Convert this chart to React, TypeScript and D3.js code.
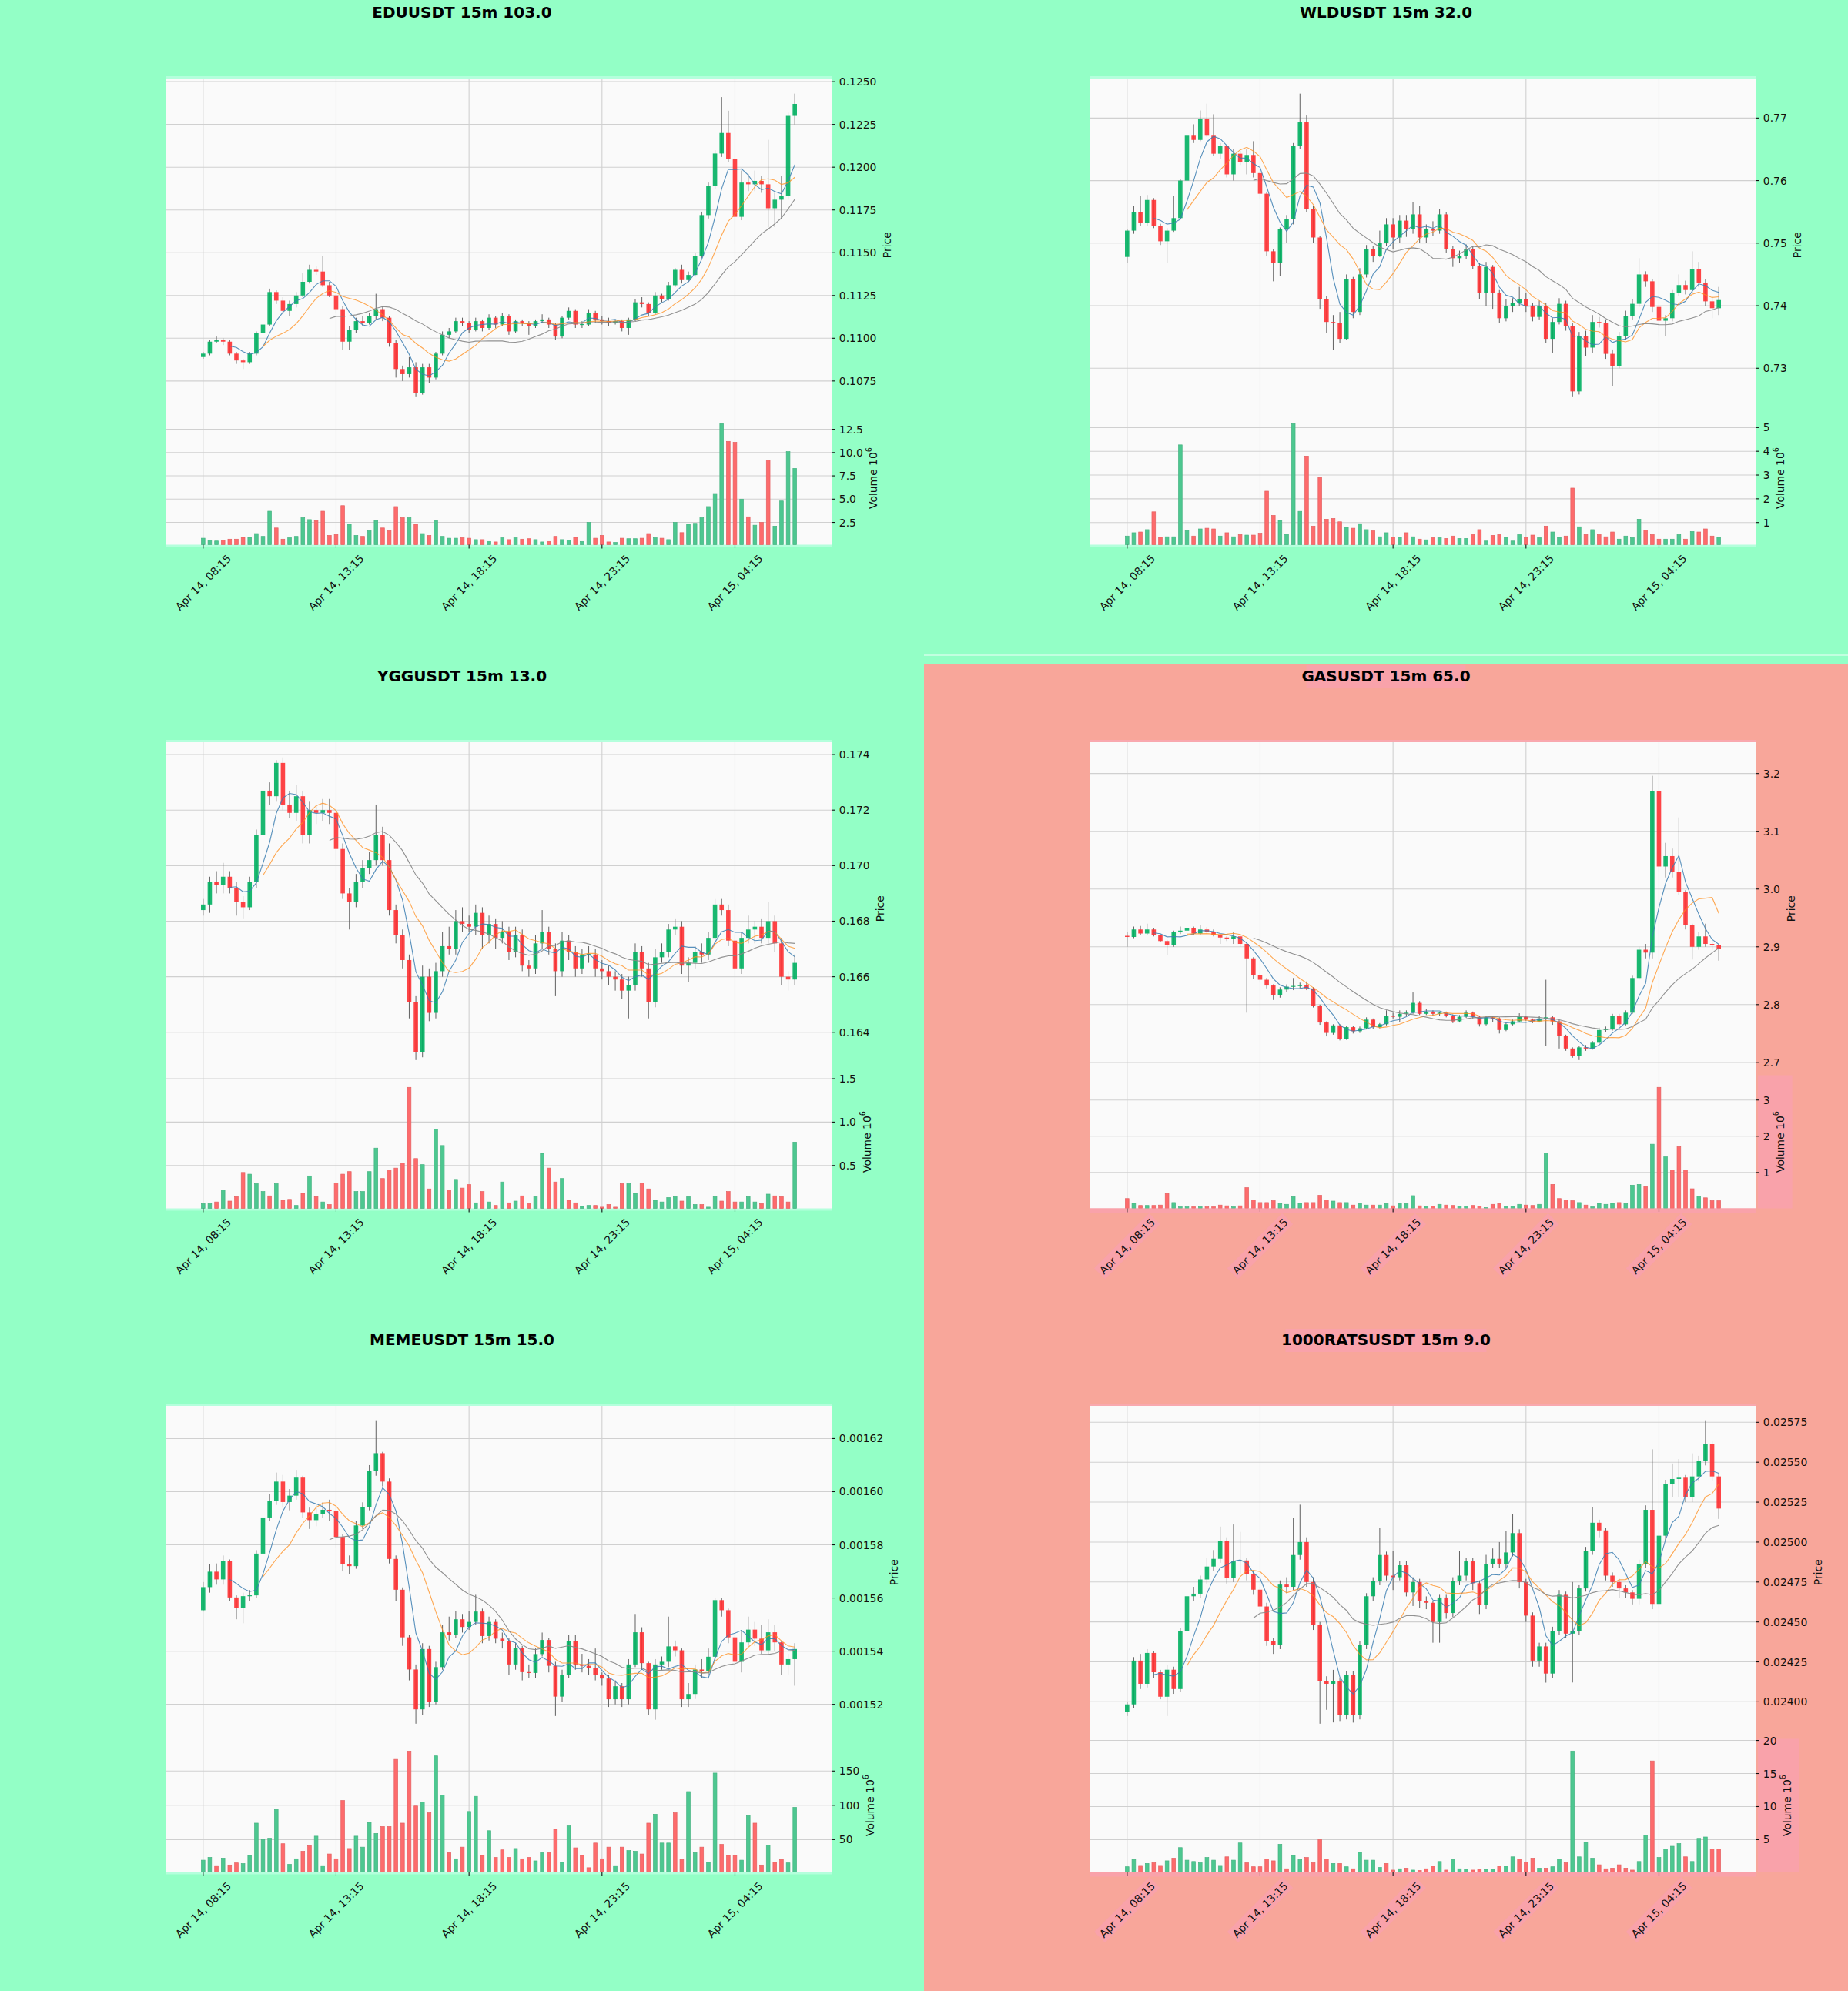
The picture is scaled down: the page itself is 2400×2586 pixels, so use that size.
import React from 'react';
import * as d3 from 'd3';

type Bar = [number, number, number, number]; // open, high, low, close

const timeTickIndex = [0, 20, 40, 60, 80];
const timeTickLabels = ['Apr 14, 08:15', 'Apr 14, 13:15', 'Apr 14, 18:15', 'Apr 14, 23:15', 'Apr 15, 04:15'];

const eduOHLC: Bar[] = [
[.1089,.1092,.1088,.1091],[.1091,.1099,.1090,.1098],[.1098,.1101,.1097,.1099],[.1099,.1100,.1096,.1098],[.1098,.1099,.1090,.1091],
[.1091,.1092,.1085,.1087],[.1087,.1088,.1082,.1086],[.1086,.1092,.1085,.1091],[.1091,.1104,.1090,.1103],[.1103,.1110,.1101,.1108],
[.1108,.1129,.1107,.1127],[.1127,.1128,.1120,.1122],[.1122,.1124,.1114,.1116],[.1116,.1122,.1113,.1120],[.1120,.1127,.1118,.1125],
[.1125,.1138,.1124,.1133],[.1133,.1143,.1132,.1140],[.1140,.1142,.1137,.1139],[.1139,.1148,.1130,.1131],[.1131,.1133,.1124,.1125],
[.1125,.1126,.1115,.1117],[.1117,.1119,.1093,.1098],[.1098,.1107,.1093,.1105],[.1105,.1112,.1103,.1110],[.1110,.1113,.1107,.1109],
[.1109,.1115,.1108,.1113],[.1113,.1126,.1111,.1117],[.1117,.1119,.1110,.1112],[.1112,.1113,.1095,.1097],[.1097,.1099,.1077,.1082],
[.1082,.1084,.1075,.1079],[.1079,.1089,.1077,.1083],[.1083,.1086,.1066,.1068],[.1068,.1085,.1067,.1083],[.1083,.1085,.1074,.1077],
[.1077,.1092,.1076,.1091],[.1091,.1104,.1090,.1102],[.1102,.1106,.1100,.1104],[.1104,.1112,.1103,.1110],[.1110,.1112,.1107,.1109],
[.1109,.1110,.1103,.1105],[.1105,.1112,.1104,.1110],[.1110,.1111,.1104,.1106],[.1106,.1114,.1105,.1112],[.1112,.1113,.1106,.1108],
[.1108,.1115,.1107,.1113],[.1113,.1114,.1102,.1104],[.1104,.1111,.1103,.1110],[.1110,.1111,.1107,.1109],[.1109,.1110,.1102,.1107],
[.1107,.1111,.1106,.1110],[.1110,.1114,.1109,.1111],[.1111,.1112,.1106,.1108],[.1108,.1109,.1099,.1101],[.1101,.1113,.1100,.1112],
[.1112,.1118,.1111,.1116],[.1116,.1117,.1106,.1108],[.1108,.1110,.1106,.1108],[.1108,.1117,.1107,.1115],[.1115,.1116,.1109,.1111],
[.1111,.1113,.1108,.1110],[.1110,.1112,.1107,.1109],[.1109,.1111,.1108,.1110],[.1110,.1111,.1104,.1106],[.1106,.1112,.1102,.1111],
[.1111,.1123,.1110,.1121],[.1121,.1124,.1118,.1120],[.1120,.1121,.1113,.1115],[.1115,.1127,.1114,.1125],[.1125,.1126,.1121,.1123],
[.1123,.1133,.1122,.1131],[.1131,.1141,.1130,.1140],[.1140,.1143,.1132,.1134],[.1134,.1139,.1133,.1137],[.1137,.1150,.1136,.1148],
[.1148,.1174,.1147,.1172],[.1172,.1191,.1170,.1189],[.1189,.1210,.1187,.1208],[.1208,.1241,.1206,.1220],[.1220,.1233,.1203,.1205],
[.1205,.1207,.1155,.1171],[.1171,.1198,.1169,.1191],[.1191,.1196,.1186,.1190],[.1190,.1198,.1186,.1192],[.1192,.1195,.1185,.1190],
[.1190,.1216,.1165,.1176],[.1176,.1185,.1165,.1181],[.1181,.1195,.1170,.1183],[.1183,.1232,.1181,.1230],[.1230,.1243,.1225,.1237],
];
const eduVol = [0.8,0.6,0.5,0.6,0.7,0.7,0.9,0.9,1.3,1.0,3.7,1.9,0.7,0.85,1.0,3.0,2.8,2.7,3.7,1.1,1.2,4.3,2.3,1.1,1.0,1.6,2.7,1.9,1.6,4.2,
3.0,3.0,2.3,1.3,1.1,2.7,1.0,0.8,0.8,0.85,0.8,0.65,0.65,0.45,0.4,0.85,0.65,0.85,0.7,0.75,0.65,0.4,0.45,1.0,0.65,0.6,0.9,0.45,2.5,0.8,
1.1,0.4,0.35,0.8,0.75,0.75,0.8,1.3,0.85,0.8,0.65,2.5,1.4,2.3,2.4,3.0,4.2,5.6,13.1,11.2,11.1,5.0,3.1,2.2,2.5,9.2,2.1,4.8,10.1,8.3];
const eduPriceTicks = [0.1075,0.11,0.1125,0.115,0.1175,0.12,0.1225,0.125];
const eduVolTicks = [2.5,5,7.5,10,12.5];

const wldOHLC: Bar[] = [
[.7478,.7522,.7468,.7520],[.7520,.7560,.7515,.7550],[.7550,.7575,.7528,.7532],[.7532,.7577,.7528,.7569],[.7569,.7572,.7524,.7528],
[.7528,.7531,.7497,.7503],[.7503,.7524,.7468,.7520],[.7520,.7575,.7518,.7540],[.7540,.7603,.7538,.7600],[.7600,.7676,.7598,.7673],
[.7673,.7690,.7660,.7665],[.7665,.7712,.7663,.7699],[.7699,.7723,.7670,.7673],[.7673,.7706,.7640,.7643],[.7643,.7660,.7635,.7655],
[.7655,.7658,.7605,.7610],[.7610,.7650,.7600,.7643],[.7643,.7648,.7625,.7630],[.7630,.7650,.7610,.7641],[.7641,.7663,.7605,.7612],
[.7612,.7615,.7570,.7579],[.7579,.7582,.7480,.7487],[.7487,.7490,.7439,.7468],[.7468,.7525,.7448,.7522],[.7522,.7545,.7500,.7538],
[.7538,.7660,.7530,.7655],[.7655,.7739,.7650,.7693],[.7693,.7704,.7550,.7554],[.7554,.7560,.7500,.7509],[.7509,.7512,.7395,.7411],
[.7411,.7415,.7357,.7374],[.7374,.7385,.7329,.7372],[.7372,.7390,.7340,.7347],[.7347,.7450,.7345,.7442],[.7442,.7446,.7380,.7390],
[.7390,.7460,.7385,.7450],[.7450,.7497,.7445,.7491],[.7491,.7495,.7470,.7480],[.7480,.7520,.7478,.7501],[.7501,.7540,.7495,.7530],
[.7530,.7540,.7490,.7509],[.7509,.7545,.7500,.7536],[.7536,.7545,.7510,.7522],[.7522,.7565,.7515,.7546],[.7546,.7560,.7500,.7509],
[.7509,.7530,.7500,.7522],[.7522,.7535,.7512,.7520],[.7520,.7555,.7515,.7546],[.7546,.7550,.7485,.7491],[.7491,.7495,.7462,.7476],
[.7476,.7488,.7468,.7480],[.7480,.7498,.7475,.7491],[.7491,.7495,.7458,.7464],[.7464,.7468,.7410,.7421],[.7421,.7470,.7400,.7462],
[.7462,.7465,.7395,.7421],[.7421,.7425,.7372,.7380],[.7380,.7410,.7375,.7400],[.7400,.7412,.7390,.7405],[.7405,.7430,.7400,.7411],
[.7411,.7420,.7390,.7400],[.7400,.7405,.7375,.7382],[.7382,.7408,.7378,.7400],[.7400,.7405,.7340,.7347],[.7347,.7380,.7325,.7374],
[.7374,.7412,.7370,.7403],[.7403,.7408,.7360,.7368],[.7368,.7372,.7255,.7263],[.7263,.7358,.7258,.7351],[.7351,.7360,.7320,.7333],
[.7333,.7385,.7325,.7374],[.7374,.7382,.7365,.7372],[.7372,.7378,.7315,.7323],[.7323,.7330,.7271,.7304],[.7304,.7358,.7300,.7351],
[.7351,.7392,.7345,.7384],[.7384,.7410,.7378,.7403],[.7403,.7476,.7398,.7450],[.7450,.7455,.7430,.7439],[.7439,.7442,.7390,.7398],
[.7398,.7402,.7350,.7376],[.7376,.7385,.7352,.7380],[.7380,.7425,.7375,.7421],[.7421,.7450,.7415,.7433],[.7433,.7440,.7418,.7425],
[.7425,.7487,.7420,.7458],[.7458,.7470,.7430,.7437],[.7437,.7442,.7400,.7407],[.7407,.7415,.7380,.7396],[.7396,.7430,.7385,.7409],
];
const wldVol = [0.43,0.57,0.6,0.7,1.45,0.38,0.4,0.4,4.27,0.66,0.43,0.73,0.76,0.73,0.43,0.57,0.4,0.49,0.47,0.47,
0.55,2.32,1.3,1.09,0.5,5.16,1.47,3.8,0.85,2.9,1.14,1.17,1.03,0.8,0.76,0.95,0.7,0.65,0.4,0.57,
0.38,0.38,0.57,0.4,0.3,0.27,0.36,0.36,0.33,0.43,0.33,0.33,0.49,0.7,0.22,0.46,0.49,0.38,0.22,0.49,
0.38,0.47,0.36,0.85,0.6,0.38,0.43,2.45,0.82,0.49,0.7,0.49,0.4,0.6,0.3,0.43,0.36,1.14,0.68,0.49,
0.3,0.3,0.3,0.49,0.3,0.62,0.6,0.73,0.43,0.38];
const wldPriceTicks = [0.73,0.74,0.75,0.76,0.77];
const wldVolTicks = [1,2,3,4,5];

const yggOHLC: Bar[] = [
[.1684,.1688,.1682,.1686],[.1686,.1696,.1683,.1694],[.1694,.1698,.1690,.1693],[.1693,.1701,.1690,.1696],[.1696,.1698,.1690,.1692],
[.1692,.1694,.1682,.1687],[.1687,.1689,.1681,.1685],[.1685,.1696,.1684,.1694],[.1694,.1713,.1692,.1711],[.1711,.1729,.1709,.1727],
[.1727,.1730,.1722,.1725],[.1725,.1738,.1723,.1737],[.1737,.1739,.1720,.1722],[.1722,.1727,.1717,.1719],[.1719,.1729,.1716,.1725],
[.1725,.1727,.1708,.1711],[.1711,.1723,.1708,.1720],[.1720,.1722,.1715,.1719],[.1719,.1724,.1716,.1720],[.1720,.1724,.1715,.1719],
[.1719,.1721,.1702,.1706],[.1706,.1708,.1688,.1690],[.1690,.1692,.1677,.1687],[.1687,.1697,.1685,.1694],[.1694,.1702,.1692,.1699],
[.1699,.1705,.1697,.1702],[.1702,.1722,.1700,.1711],[.1711,.1714,.1700,.1702],[.1702,.1708,.1682,.1684],[.1684,.1686,.1672,.1675],
[.1675,.1677,.1663,.1666],[.1666,.1668,.1645,.1651],[.1651,.1653,.1630,.1633],[.1633,.1664,.1631,.1660],[.1660,.1663,.1644,.1647],
[.1647,.1665,.1645,.1662],[.1662,.1676,.1660,.1671],[.1671,.1678,.1668,.1670],[.1670,.1684,.1668,.1680],[.1680,.1685,.1676,.1679],
[.1679,.1682,.1676,.1678],[.1678,.1686,.1675,.1683],[.1683,.1685,.1670,.1675],[.1675,.1682,.1672,.1679],[.1679,.1681,.1670,.1674],
[.1674,.1680,.1672,.1676],[.1676,.1678,.1666,.1669],[.1669,.1678,.1667,.1675],[.1675,.1677,.1662,.1664],[.1664,.1666,.1660,.1663],
[.1663,.1675,.1661,.1672],[.1672,.1684,.1670,.1676],[.1676,.1678,.1668,.1670],[.1670,.1672,.1653,.1662],[.1662,.1676,.1660,.1673],
[.1673,.1675,.1666,.1669],[.1669,.1671,.1660,.1663],[.1663,.1670,.1661,.1668],[.1668,.1671,.1665,.1668],[.1668,.1670,.1660,.1663],
[.1663,.1666,.1659,.1662],[.1662,.1664,.1657,.1660],[.1660,.1662,.1655,.1659],[.1659,.1661,.1652,.1655],[.1655,.1660,.1645,.1657],
[.1657,.1672,.1655,.1669],[.1669,.1671,.1660,.1663],[.1663,.1665,.1645,.1651],[.1651,.1670,.1649,.1667],[.1667,.1672,.1665,.1669],
[.1669,.1679,.1667,.1677],[.1677,.1681,.1675,.1678],[.1678,.1680,.1661,.1664],[.1664,.1667,.1658,.1665],[.1665,.1671,.1663,.1669],
[.1669,.1672,.1665,.1668],[.1668,.1676,.1666,.1674],[.1674,.1688,.1672,.1686],[.1686,.1688,.1682,.1684],[.1684,.1686,.1671,.1673],
[.1673,.1675,.1660,.1663],[.1663,.1676,.1661,.1674],[.1674,.1682,.1672,.1677],[.1677,.1680,.1672,.1678],[.1678,.1681,.1672,.1674],
[.1674,.1687,.1672,.1680],[.1680,.1682,.1669,.1672],[.1672,.1674,.1657,.1660],[.1660,.1662,.1655,.1659],[.1659,.1668,.1657,.1665],
];
const yggVol = [0.06,0.06,0.08,0.22,0.09,0.14,0.42,0.40,0.29,0.20,0.15,0.29,0.10,0.11,0.04,0.18,0.38,0.14,0.08,0.05,
0.30,0.40,0.43,0.20,0.20,0.43,0.70,0.35,0.45,0.47,0.53,1.40,0.58,0.51,0.23,0.92,0.73,0.22,0.34,0.24,
0.28,0.07,0.20,0.08,0.04,0.31,0.07,0.09,0.15,0.06,0.14,0.64,0.47,0.31,0.35,0.10,0.07,0.03,0.04,0.04,
0.02,0.05,0.02,0.29,0.29,0.18,0.30,0.23,0.10,0.08,0.13,0.14,0.09,0.14,0.05,0.05,0.02,0.14,0.09,0.20,
0.08,0.08,0.14,0.08,0.06,0.17,0.15,0.14,0.08,0.77];
const yggPriceTicks = [0.164,0.166,0.168,0.17,0.172,0.174];
const yggVolTicks = [0.5,1,1.5];

const gasOHLC: Bar[] = [
[2.919,2.925,2.900,2.917],[2.917,2.935,2.915,2.930],[2.930,2.936,2.920,2.923],[2.923,2.940,2.920,2.930],[2.930,2.933,2.918,2.920],
[2.920,2.922,2.908,2.910],[2.910,2.912,2.885,2.903],[2.903,2.928,2.900,2.925],[2.925,2.935,2.922,2.928],[2.928,2.938,2.925,2.933],
[2.933,2.935,2.920,2.923],[2.923,2.937,2.921,2.930],[2.930,2.934,2.924,2.926],[2.926,2.930,2.918,2.920],[2.920,2.922,2.905,2.916],
[2.916,2.918,2.910,2.914],[2.914,2.925,2.905,2.918],[2.918,2.920,2.900,2.905],[2.905,2.908,2.786,2.880],[2.880,2.882,2.845,2.851],
[2.851,2.855,2.838,2.843],[2.843,2.846,2.828,2.833],[2.833,2.835,2.808,2.816],[2.816,2.830,2.812,2.826],[2.826,2.835,2.822,2.831],
[2.831,2.846,2.825,2.832],[2.832,2.838,2.828,2.834],[2.834,2.840,2.825,2.828],[2.828,2.830,2.795,2.798],[2.798,2.800,2.765,2.769],
[2.769,2.771,2.745,2.751],[2.751,2.766,2.748,2.764],[2.764,2.766,2.738,2.741],[2.741,2.763,2.739,2.761],[2.761,2.763,2.750,2.754],
[2.754,2.762,2.751,2.759],[2.759,2.778,2.757,2.774],[2.774,2.776,2.758,2.761],[2.761,2.768,2.759,2.766],[2.766,2.790,2.764,2.781],
[2.781,2.786,2.776,2.779],[2.779,2.790,2.770,2.784],[2.784,2.790,2.780,2.786],[2.786,2.821,2.784,2.803],[2.803,2.806,2.782,2.784],
[2.784,2.792,2.782,2.788],[2.788,2.790,2.780,2.784],[2.784,2.788,2.780,2.786],[2.786,2.788,2.778,2.781],[2.781,2.783,2.768,2.771],
[2.771,2.782,2.769,2.779],[2.779,2.790,2.777,2.786],[2.786,2.788,2.776,2.779],[2.779,2.781,2.762,2.766],[2.766,2.780,2.764,2.778],
[2.778,2.781,2.770,2.776],[2.776,2.778,2.750,2.756],[2.756,2.768,2.754,2.766],[2.766,2.774,2.764,2.771],[2.771,2.785,2.769,2.779],
[2.779,2.781,2.772,2.774],[2.774,2.776,2.768,2.771],[2.771,2.780,2.769,2.776],[2.776,2.843,2.729,2.778],[2.778,2.780,2.765,2.771],
[2.771,2.773,2.724,2.746],[2.746,2.748,2.720,2.724],[2.724,2.726,2.708,2.711],[2.711,2.728,2.704,2.726],[2.726,2.730,2.720,2.724],
[2.724,2.737,2.722,2.734],[2.734,2.760,2.732,2.756],[2.756,2.762,2.752,2.758],[2.758,2.784,2.755,2.781],[2.781,2.784,2.762,2.766],
[2.766,2.790,2.764,2.786],[2.786,2.850,2.784,2.846],[2.846,2.900,2.843,2.895],[2.895,2.905,2.880,2.890],[2.890,3.196,2.880,3.169],
[3.169,3.228,3.030,3.039],[3.039,3.080,3.020,3.057],[3.057,3.070,3.020,3.030],[3.030,3.124,2.990,2.995],[2.995,2.998,2.930,2.938],
[2.938,2.940,2.878,2.900],[2.900,2.925,2.895,2.918],[2.918,2.940,2.900,2.905],[2.905,2.910,2.895,2.903],[2.903,2.905,2.876,2.896],
];
const gasVol = [0.28,0.15,0.09,0.09,0.09,0.10,0.42,0.17,0.05,0.05,0.05,0.05,0.05,0.05,0.10,0.08,0.05,0.08,0.58,0.24,
0.17,0.17,0.22,0.14,0.12,0.33,0.15,0.17,0.17,0.37,0.24,0.21,0.17,0.17,0.10,0.14,0.10,0.10,0.10,0.14,
0.08,0.14,0.14,0.36,0.08,0.07,0.07,0.12,0.10,0.09,0.07,0.07,0.09,0.07,0.03,0.12,0.14,0.07,0.07,0.12,
0.10,0.09,0.12,1.54,0.67,0.28,0.24,0.22,0.17,0.10,0.05,0.15,0.12,0.15,0.17,0.14,0.65,0.67,0.61,1.78,
3.35,1.43,1.07,1.71,1.07,0.55,0.35,0.30,0.22,0.22];
const gasPriceTicks = [2.7,2.8,2.9,3.0,3.1,3.2];
const gasVolTicks = [1,2,3];

const memeOHLC: Bar[] = [
[0.0015554,0.001566,0.0015549,0.0015641],[0.0015641,0.0015728,0.001562,0.0015699],[0.0015699,0.001573,0.001565,0.001567],[0.001567,0.001576,0.001565,0.0015738],[0.0015738,0.0015745,0.001559,0.0015602],
[0.0015602,0.001561,0.001552,0.0015563],[0.0015563,0.001562,0.0015505,0.0015607],[0.0015607,0.001563,0.001559,0.001561],[0.001561,0.001578,0.00156,0.0015767],[0.0015767,0.001592,0.001575,0.0015903],
[0.0015903,0.001599,0.001589,0.0015966],[0.0015966,0.0016072,0.001595,0.0016038],[0.0016038,0.0016063,0.001594,0.0015961],[0.0015961,0.001601,0.001593,0.0015985],[0.0015985,0.0016082,0.001597,0.0016053],
[0.0016053,0.001606,0.00159,0.0015922],[0.0015922,0.001594,0.001586,0.0015893],[0.0015893,0.001595,0.001587,0.0015917],[0.0015917,0.001596,0.00159,0.0015932],[0.0015932,0.001597,0.001589,0.0015927],
[0.0015927,0.001594,0.001579,0.001583],[0.001583,0.001584,0.00157,0.0015728],[0.0015728,0.001576,0.001569,0.001572],[0.001572,0.001589,0.001571,0.0015873],[0.0015873,0.001596,0.001586,0.0015941],
[0.0015941,0.00161,0.001593,0.0016077],[0.0016077,0.0016266,0.001606,0.0016145],[0.0016145,0.001615,0.001602,0.0016038],[0.0016038,0.001605,0.001573,0.0015747],[0.0015747,0.001576,0.001559,0.0015631],
[0.0015631,0.001564,0.001542,0.0015452],[0.0015452,0.001546,0.001529,0.0015331],[0.0015331,0.001535,0.0015127,0.0015181],[0.0015181,0.001543,0.001516,0.0015408],[0.0015408,0.001542,0.001519,0.001521],
[0.001521,0.001536,0.00152,0.001534],[0.001534,0.00155,0.001533,0.0015471],[0.0015471,0.001553,0.001544,0.0015462],[0.0015462,0.001555,0.001545,0.001552],[0.001552,0.001554,0.001547,0.0015491],
[0.0015491,0.001555,0.001548,0.001551],[0.001551,0.0015612,0.00155,0.0015549],[0.0015549,0.001556,0.001543,0.0015457],[0.0015457,0.001553,0.001544,0.001551],[0.001551,0.001552,0.001543,0.0015447],
[0.0015447,0.001547,0.001541,0.0015437],[0.0015437,0.001545,0.001531,0.001535],[0.001535,0.001543,0.001533,0.0015413],[0.0015413,0.001542,0.001529,0.0015321],[0.0015321,0.001535,0.00153,0.0015318],
[0.0015318,0.001541,0.00153,0.0015389],[0.0015389,0.001547,0.001538,0.0015442],[0.0015442,0.001545,0.001532,0.0015345],[0.0015345,0.001536,0.0015156,0.0015229],[0.0015229,0.001533,0.001521,0.0015311],
[0.0015311,0.001546,0.00153,0.0015437],[0.0015437,0.001546,0.001533,0.001535],[0.001535,0.001539,0.001532,0.0015345],[0.0015345,0.001537,0.001531,0.0015336],[0.0015336,0.001541,0.001529,0.0015311],
[0.0015311,0.001532,0.001527,0.0015297],[0.0015297,0.001531,0.001519,0.0015219],[0.0015219,0.001529,0.00152,0.0015268],[0.0015268,0.001528,0.001519,0.0015219],[0.0015219,0.001537,0.00152,0.001535],
[0.001535,0.001554,0.001534,0.0015471],[0.0015471,0.001549,0.001533,0.0015355],[0.0015355,0.001536,0.001516,0.0015181],[0.0015181,0.001537,0.0015142,0.001535],[0.001535,0.001538,0.001533,0.001536],
[0.001536,0.001553,0.001534,0.0015418],[0.0015418,0.001544,0.001538,0.0015403],[0.0015403,0.001541,0.001519,0.0015219],[0.0015219,0.001528,0.001519,0.0015239],[0.0015239,0.001535,0.001522,0.0015331],
[0.0015331,0.001537,0.00153,0.0015326],[0.0015326,0.001541,0.001531,0.0015379],[0.0015379,0.00156,0.001536,0.0015592],[0.0015592,0.00156,0.001553,0.0015554],[0.0015554,0.001556,0.001543,0.0015452],
[0.0015452,0.001546,0.001534,0.001536],[0.001536,0.001548,0.001532,0.0015433],[0.0015433,0.001553,0.001542,0.0015481],[0.0015481,0.001551,0.001542,0.0015447],[0.0015447,0.00155,0.001539,0.0015403],
[0.0015403,0.001552,0.001539,0.0015471],[0.0015471,0.00155,0.00154,0.0015433],[0.0015433,0.001544,0.001531,0.001535],[0.001535,0.001539,0.001531,0.001537],[0.001537,0.001543,0.001527,0.0015408],
];
const memeVol = [20,24,12,23,13,16,15,27,74,50,52,94,44,14,22,33,41,55,12,29,22,107,37,55,39,75,59,69,69,167,
74,179,99,105,89,172,115,31,22,39,91,113,27,63,24,35,24,37,22,24,19,31,31,65,17,70,38,27,9,45,
22,39,12,39,34,33,29,74,87,45,45,89,21,120,31,39,17,147,43,27,27,20,85,74,13,42,17,21,16,97];
const memePriceTicks = [0.00152,0.00154,0.00156,0.00158,0.0016,0.00162];
const memeVolTicks = [50,100,150];

const ratsOHLC: Bar[] = [
[0.023935,0.024,0.023911,0.023984],[0.023984,0.02428,0.02396,0.024258],[0.024258,0.0243,0.02408,0.024113],[0.024113,0.02433,0.02409,0.024306],[0.024306,0.02432,0.02415,0.024185],
[0.024185,0.0242,0.024016,0.024032],[0.024032,0.02423,0.023911,0.024201],[0.024201,0.02422,0.02405,0.02408],[0.02408,0.02446,0.02406,0.024443],[0.024443,0.02468,0.02442,0.024661],
[0.024661,0.02472,0.02463,0.024677],[0.024677,0.02479,0.02465,0.024766],[0.024766,0.0249,0.02474,0.024847],[0.024847,0.02495,0.02482,0.024895],[0.024895,0.025097,0.02487,0.025008],
[0.025008,0.02503,0.02474,0.024774],[0.024774,0.02511,0.02475,0.024879],[0.024879,0.025064,0.0248,0.024885],[0.024885,0.0249,0.02476,0.024798],[0.024798,0.02482,0.02467,0.024702],
[0.024702,0.02472,0.02456,0.024597],[0.024597,0.02462,0.02435,0.024379],[0.024379,0.0244,0.0243,0.024354],[0.024354,0.02476,0.02433,0.024734],[0.024734,0.02478,0.02468,0.02472],
[0.02472,0.02515,0.0247,0.024919],[0.024919,0.025234,0.02489,0.025],[0.025,0.02503,0.02472,0.02475],[0.02475,0.02478,0.02445,0.024484],[0.024484,0.0245,0.023863,0.024129],
[0.024129,0.02416,0.02395,0.024113],[0.024113,0.0242,0.023871,0.024129],[0.024129,0.02415,0.02388,0.023919],[0.023919,0.02419,0.02389,0.024169],[0.024169,0.02419,0.02387,0.023919],
[0.023919,0.02438,0.02389,0.024354],[0.024354,0.02468,0.02433,0.024661],[0.024661,0.02478,0.02463,0.024758],[0.024758,0.025089,0.02473,0.024919],[0.024919,0.02494,0.02476,0.02479],
[0.02479,0.024944,0.0247,0.02478],[0.02478,0.02488,0.02476,0.024855],[0.024855,0.02488,0.02466,0.024685],[0.024685,0.02478,0.0246,0.02475],[0.02475,0.02477,0.02459,0.024629],
[0.024629,0.02466,0.02458,0.02462],[0.02462,0.02463,0.02437,0.0245],[0.0245,0.02467,0.02437,0.024653],[0.024653,0.02467,0.02452,0.024556],[0.024556,0.02478,0.02453,0.024758],
[0.024758,0.024944,0.02473,0.02479],[0.02479,0.0249,0.02476,0.024879],[0.024879,0.0249,0.0247,0.024742],[0.024742,0.02476,0.02455,0.024605],[0.024605,0.02492,0.02458,0.024863],
[0.024863,0.02496,0.02484,0.024895],[0.024895,0.025,0.02484,0.024863],[0.024863,0.02507,0.02484,0.024935],[0.024935,0.025177,0.02491,0.025056],[0.025056,0.02508,0.02471,0.02475],
[0.02475,0.02477,0.0245,0.02454],[0.02454,0.02456,0.02422,0.024258],[0.024258,0.02437,0.02422,0.024347],[0.024347,0.02437,0.02412,0.024177],[0.024177,0.02447,0.02415,0.024443],
[0.024443,0.0247,0.02442,0.02467],[0.02467,0.02469,0.0244,0.024427],[0.024427,0.02475,0.024121,0.024445],[0.024445,0.02473,0.02442,0.02471],[0.02471,0.02497,0.02469,0.024944],
[0.024944,0.025218,0.02492,0.025121],[0.025121,0.02514,0.02503,0.025073],[0.025073,0.02509,0.02476,0.02479],[0.02479,0.02481,0.02472,0.02475],[0.02475,0.02477,0.02465,0.02471],
[0.02471,0.02473,0.02465,0.024685],[0.024685,0.0247,0.02461,0.024645],[0.024645,0.02489,0.02461,0.024863],[0.024863,0.02523,0.02484,0.025202],[0.025202,0.025581,0.02458,0.024613],
[0.024613,0.02507,0.02459,0.02504],[0.02504,0.02539,0.02501,0.025363],[0.025363,0.025492,0.02528,0.025395],[0.025395,0.02552,0.02528,0.025403],[0.025403,0.02542,0.02525,0.025282],
[0.025282,0.025556,0.02525,0.025411],[0.025411,0.02554,0.02538,0.025508],[0.025508,0.025758,0.02548,0.025613],[0.025613,0.02563,0.02538,0.025411],[0.025411,0.02543,0.025145,0.02521],
];
const ratsVol = [0.9,2.0,1.1,1.4,1.5,1.1,1.8,2.2,3.8,1.9,1.7,1.5,2.3,1.9,1.1,2.4,1.9,4.5,1.5,0.9,
0.9,2.1,1.8,4.3,0.6,2.6,2.0,2.3,1.5,5.0,2.1,1.4,1.4,0.9,0.6,3.1,1.9,1.9,0.8,1.4,
0.4,0.6,0.7,0.4,0.35,0.6,1.0,1.7,0.4,2.0,0.6,0.5,0.4,0.5,0.5,0.5,1.0,1.0,2.4,2.1,
1.6,2.2,0.7,0.7,0.9,2.1,1.5,18.4,2.4,4.6,2.2,1.2,0.6,0.7,1.2,0.7,0.4,1.7,5.7,16.9,
2.3,3.6,4.0,4.4,2.4,1.7,5.2,5.4,3.6,3.6];
const ratsPriceTicks = [0.024,0.02425,0.0245,0.02475,0.025,0.02525,0.0255,0.02575];
const ratsVolTicks = [5,10,15,20];

const maPeriods = [5, 10, 20];

const BG_GREEN = '#93ffc6';
const BG_SALMON = '#f8a69a';

const panels = [
  { title: 'EDUUSDT 15m 103.0', ohlc: eduOHLC, vol: eduVol, pTicks: eduPriceTicks, pDec: 4, vTicks: eduVolTicks, vDec: 1, bg: BG_GREEN, col: 0, row: 0 },
  { title: 'WLDUSDT 15m 32.0', ohlc: wldOHLC, vol: wldVol, pTicks: wldPriceTicks, pDec: 2, vTicks: wldVolTicks, vDec: 0, bg: BG_GREEN, col: 1, row: 0 },
  { title: 'YGGUSDT 15m 13.0', ohlc: yggOHLC, vol: yggVol, pTicks: yggPriceTicks, pDec: 3, vTicks: yggVolTicks, vDec: 1, bg: BG_GREEN, col: 0, row: 1 },
  { title: 'GASUSDT 15m 65.0', ohlc: gasOHLC, vol: gasVol, pTicks: gasPriceTicks, pDec: 1, vTicks: gasVolTicks, vDec: 0, bg: BG_SALMON, col: 1, row: 1 },
  { title: 'MEMEUSDT 15m 15.0', ohlc: memeOHLC, vol: memeVol, pTicks: memePriceTicks, pDec: 5, vTicks: memeVolTicks, vDec: 0, bg: BG_GREEN, col: 0, row: 2 },
  { title: '1000RATSUSDT 15m 9.0', ohlc: ratsOHLC, vol: ratsVol, pTicks: ratsPriceTicks, pDec: 5, vTicks: ratsVolTicks, vDec: 0, bg: BG_SALMON, col: 1, row: 2 },
];

const C = {
  up: '#00b060', down: '#fe3032', wick: '#606060',
  volUp: '#4dc790', volDown: '#fd6b6c',
  volUpEdge: '#45b381', volDownEdge: '#e46061',
  face: '#fafafa', grid: '#d0d0d0', text: '#101010',
  ma: ['#3a7db0', '#ff8c1a', '#858585'],
  maOpacity: [0.85, 0.75, 0.9],
};
const FONT = 'DejaVu Sans, sans-serif';
const FS = 13.9;

function textW(s: string, fs: number) {
  let w = 0;
  for (const ch of s) {
    if (ch >= '0' && ch <= '9') w += 0.636;
    else if (ch === '.' || ch === ',' || ch === ' ') w += 0.318;
    else if (ch === ':') w += 0.337;
    else if (ch === 'A') w += 0.684;
    else if (ch === 'p') w += 0.635;
    else if (ch === 'r') w += 0.411;
    else w += 0.6;
  }
  return w * fs;
}

function sma(c: number[], w: number): (number | null)[] {
  return c.map((_, i) => (i < w - 1 ? null : (d3.mean(c.slice(i - w + 1, i + 1)) as number)));
}

function Panel({ p }: { p: typeof panels[number] }) {
  const ox = p.col * 1200, oy = p.row * 862;
  const x0 = ox + 216, x1 = ox + 1080;
  const yTop = oy + 102, yMid = oy + 534.5, yBot = oy + 707.5;
  const n = p.ohlc.length;
  const avg = (n - 1) / n;
  const minx = -avg, maxx = n - 1 + avg;
  const pad = (maxx - minx) * 0.05;
  const x = d3.scaleLinear().domain([minx - pad, maxx + pad]).range([x0, x1]);
  const unit = x(1) - x(0);
  const lo = d3.min(p.ohlc, d => d[2]) as number;
  const hi = d3.max(p.ohlc, d => d[1]) as number;
  const py = (hi - lo) * 0.05;
  const y = d3.scaleLinear().domain([lo - py, hi + py]).range([yMid, yTop]);
  const vmin = d3.min(p.vol) as number, vmax = d3.max(p.vol) as number;
  const yv = d3.scaleLinear().domain([0.3 * vmin, 1.1 * vmax]).range([yBot, yMid]);
  const closes = p.ohlc.map(d => d[3]);
  const pTicks = p.pTicks.filter(t => t >= y.domain()[0] && t <= y.domain()[1]);
  const vTicks = p.vTicks.filter(t => t >= yv.domain()[0] && t <= yv.domain()[1]);
  const pLabels = pTicks.map(t => t.toFixed(p.pDec));
  const vLabels = vTicks.map(t => t.toFixed(p.vDec));
  const pMaxW = d3.max(pLabels, s => textW(s, FS)) as number;
  const vMaxW = d3.max(vLabels, s => textW(s, FS)) as number;
  const tickLen = 4.9, tickPad = 4.9;
  const labX = x1 + tickLen + tickPad;
  const bw = unit * 0.65, vw = unit * 0.55;
  const salmon = p.bg === BG_SALMON;
  const boxFill = '#f9a2aa';

  return (
    <g>
      <rect x={ox} y={oy} width={1200} height={862} fill={p.bg} />
      {salmon && (
        <rect x={ox + 600 - textW(p.title, 20) * 0.54 - 6} y={oy + 2} width={textW(p.title, 20) * 1.08 + 12} height={30} fill={boxFill} />
      )}
      <text x={ox + 600} y={oy + 16} textAnchor="middle" dominantBaseline="central" fontFamily={FONT} fontWeight="bold" fontSize={20} fill="#000">{p.title}</text>
      <rect x={x0 - 1} y={yTop - 3} width={x1 - x0 + 2} height={yBot - yTop + 6} fill={salmon ? '#f9a8ae' : '#b4ffdc'} />
      <rect x={x0} y={yTop} width={x1 - x0} height={yBot - yTop} fill={C.face} />
      {/* grid */}
      {timeTickIndex.map((ti, k) => (
        <line key={'gx' + k} x1={x(ti)} x2={x(ti)} y1={yTop} y2={yBot} stroke={C.grid} strokeWidth={1.1} />
      ))}
      {pTicks.map((t, k) => (
        <line key={'gp' + k} x1={x0} x2={x1} y1={y(t)} y2={y(t)} stroke={C.grid} strokeWidth={1.1} />
      ))}
      {vTicks.map((t, k) => (
        <line key={'gv' + k} x1={x0} x2={x1} y1={yv(t)} y2={yv(t)} stroke={C.grid} strokeWidth={1.1} />
      ))}
      {/* volume bars */}
      {p.vol.map((v, i) => {
        const up = i === 0 ? p.ohlc[i][3] >= p.ohlc[i][0] : p.ohlc[i][3] >= p.ohlc[i - 1][3];
        const top = yv(v);
        return <rect key={'v' + i} x={x(i) - vw / 2} y={top} width={vw} height={Math.max(0, yBot - top)} fill={up ? C.volUp : C.volDown} stroke={up ? C.volUpEdge : C.volDownEdge} strokeWidth={0.7} />;
      })}
      {/* wicks */}
      {p.ohlc.map((d, i) => (
        <line key={'w' + i} x1={x(i)} x2={x(i)} y1={y(d[1])} y2={y(d[2])} stroke={C.wick} strokeWidth={1} />
      ))}
      {/* bodies */}
      {p.ohlc.map((d, i) => {
        const up = d[3] >= d[0];
        const t = y(Math.max(d[0], d[3]));
        const b = y(Math.min(d[0], d[3]));
        const h = Math.max(1.2, b - t);
        return <rect key={'b' + i} x={x(i) - bw / 2} y={t - (h - (b - t)) / 2} width={bw} height={h} fill={up ? C.up : C.down} opacity={0.9} />;
      })}
      {/* moving averages */}
      {maPeriods.map((w, k) => {
        const vals = sma(closes, w);
        const line = d3.line<number | null>()
          .defined(v => v != null)
          .x((_, i) => x(i))
          .y(v => y(v as number))
          .curve(d3.curveLinear);
        return <path key={'ma' + k} d={line(vals) || ''} fill="none" stroke={C.ma[k]} strokeWidth={1.1} opacity={C.maOpacity[k]} />;
      })}
      {/* right axis ticks */}
      {salmon && <rect x={x1 + 3} y={yMid} width={labX - x1 + vMaxW + 26} height={yBot - yMid} fill={boxFill} />}
      {pTicks.map((t, k) => (
        <g key={'pt' + k}>
          <line x1={x1} x2={x1 + tickLen} y1={y(t)} y2={y(t)} stroke={C.text} strokeWidth={1.1} />
          <text x={labX} y={y(t)} dominantBaseline="central" fontFamily={FONT} fontSize={FS} fill={C.text}>{pLabels[k]}</text>
        </g>
      ))}
      {vTicks.map((t, k) => (
        <g key={'vt' + k}>
          <line x1={x1} x2={x1 + tickLen} y1={yv(t)} y2={yv(t)} stroke={C.text} strokeWidth={1.1} />
          <text x={labX} y={yv(t)} dominantBaseline="central" fontFamily={FONT} fontSize={FS} fill={C.text}>{vLabels[k]}</text>
        </g>
      ))}
      <text transform={`translate(${labX + pMaxW + 5.6 + 8},${(yTop + yMid) / 2}) rotate(-90)`} textAnchor="middle" dominantBaseline="central" fontFamily={FONT} fontSize={FS} fill={C.text}>Price</text>
      <text transform={`translate(${labX + vMaxW + 5.6 + 8},${(yMid + yBot) / 2}) rotate(-90)`} textAnchor="middle" dominantBaseline="central" fontFamily={FONT} fontSize={FS} fill={C.text}>
        Volume  10<tspan fontSize={FS * 0.7} dy={-6}>6</tspan>
      </text>
      {/* x ticks */}
      {salmon && <rect x={x0} y={yBot} width={x1 - x0} height={6} fill={boxFill} />}
      {timeTickIndex.map((ti, k) => {
        const tw = textW(timeTickLabels[k], FS);
        const half = ((tw + 16) * Math.SQRT1_2) / 2;
        const cy = yBot + tickLen + tickPad + half;
        return (
          <g key={'xt' + k}>
            <line x1={x(ti)} x2={x(ti)} y1={yBot} y2={yBot + tickLen} stroke={C.text} strokeWidth={1.1} />
            {salmon && (
              <rect transform={`translate(${x(ti)},${cy}) rotate(-45)`} x={-tw / 2 - 3} y={-10} width={tw + 6} height={20} fill={boxFill} />
            )}
            <text transform={`translate(${x(ti)},${cy}) rotate(-45)`} textAnchor="middle" dominantBaseline="central" fontFamily={FONT} fontSize={FS} fill={C.text}>{timeTickLabels[k]}</text>
          </g>
        );
      })}
    </g>
  );
}

export default function App() {
  return (
    <div>
      <style>{`body{margin:0;}`}</style>
      <svg width={2400} height={2586} viewBox="0 0 2400 2586" xmlns="http://www.w3.org/2000/svg" style={{ display: 'block' }}>
        {panels.map((p, i) => <Panel key={i} p={p} />)}
        <rect x={1200} y={849} width={1200} height={3} fill="#c2ffe0" />
      </svg>
    </div>
  );
}
